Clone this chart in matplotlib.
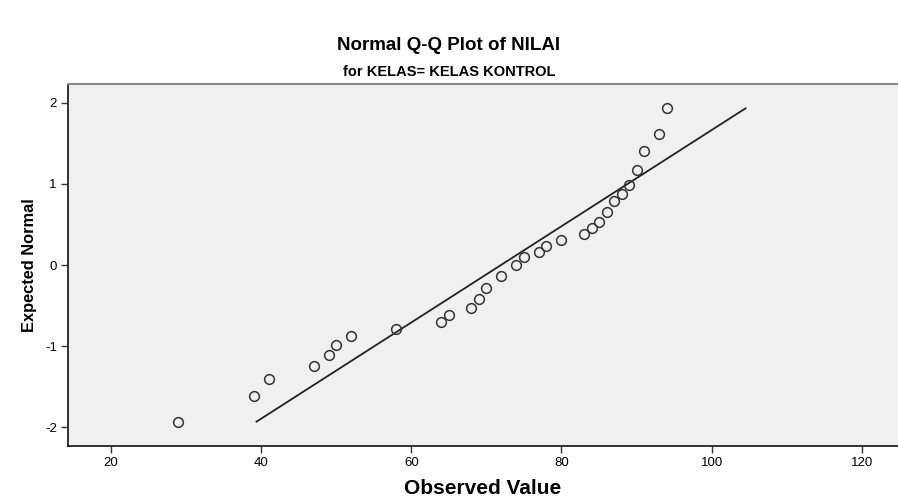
import matplotlib
matplotlib.use("Agg")
from matplotlib import pyplot as plt

observed = [29, 39, 41, 47, 49, 50, 52, 58, 64, 65, 68, 69, 70, 72, 74, 75,
            77, 78, 80, 83, 84, 85, 86, 87, 88, 89, 90, 91, 93, 94]
expected = [-1.93, -1.61, -1.40, -1.24, -1.11, -0.99, -0.88, -0.79, -0.70, -0.61,
            -0.53, -0.42, -0.28, -0.135, 0.0, 0.10, 0.16, 0.24, 0.31, 0.38,
            0.46, 0.53, 0.65, 0.79, 0.88, 0.98, 1.17, 1.40, 1.61, 1.93]

# reference line end points
line_x = [39.4, 104.5]
line_y = [-1.93, 1.93]

xticks = [20, 40, 60, 80, 100, 120]
yticks = [-2, -1, 0, 1, 2]

plt.rcParams['font.family'] = ['Liberation Sans', 'DejaVu Sans']
plt.rcParams['axes.unicode_minus'] = False

fig = plt.figure(figsize=(8.98, 4.97), dpi=100)
ax = fig.add_axes([68/898, 1 - 446/497, 1 - 68/898, (446 - 84)/497])
ax.set_facecolor('#f0f0f0')

ax.plot(line_x, line_y, color='#222222', linewidth=1.3)
ax.plot(observed, expected, linestyle='none', marker='o', markersize=7,
        markerfacecolor='none', markeredgecolor='#333333', markeredgewidth=1.1)

ax.set_xlim(14.3, 124.8)
ax.set_ylim(-2.23, 2.23)
ax.set_xticks(xticks)
ax.set_yticks(yticks)
ax.tick_params(direction='out', length=5, width=1, color='#333333',
               labelsize=9.5, pad=3)

for side in ['left', 'bottom']:
    ax.spines[side].set_color('#222222')
    ax.spines[side].set_linewidth(1.3)
ax.spines['top'].set_color('#888888')
ax.spines['top'].set_linewidth(1.5)
ax.spines['right'].set_visible(False)

ax.set_xlabel('Observed Value', fontsize=15, fontweight='bold', labelpad=7)
ax.set_ylabel('Expected Normal', fontsize=11.8, fontweight='bold', labelpad=6)

fig.text(0.5, 1 - 45/497, 'Normal Q-Q Plot of NILAI', ha='center', va='center',
         fontsize=13.5, fontweight='bold')
fig.text(0.5, 1 - 72/497, 'for KELAS= KELAS KONTROL', ha='center', va='center',
         fontsize=10.5, fontweight='bold',
         family=['Liberation Sans Narrow', 'Liberation Sans', 'DejaVu Sans'])

fig.savefig('out.png', dpi=100)
